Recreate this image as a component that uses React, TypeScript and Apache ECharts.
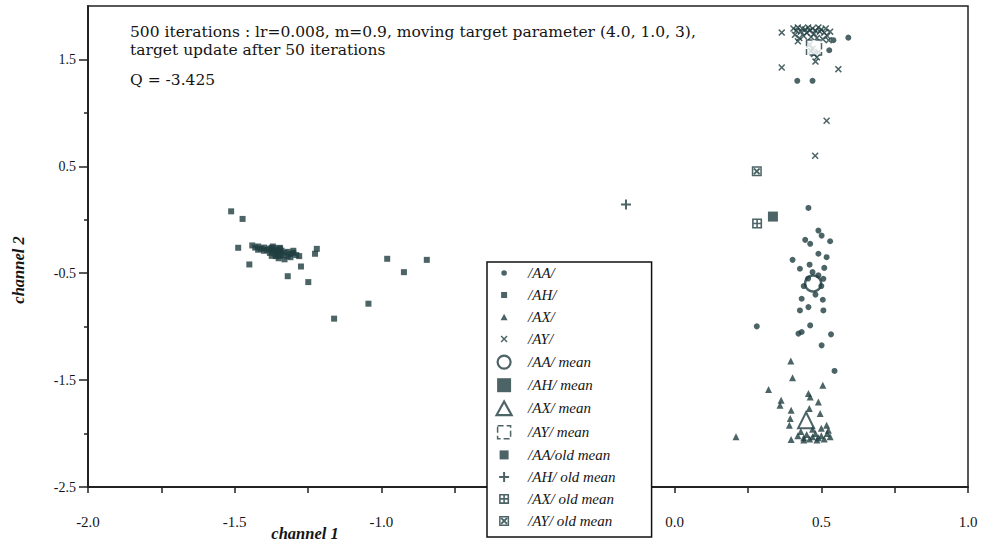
import React, { useEffect, useRef } from 'react';
import * as echarts from 'echarts';

// ---------- data ----------
const seriesNames = [
  '/AA/', '/AH/', '/AX/', '/AY/',
  '/AA/ mean', '/AH/ mean', '/AX/ mean', '/AY/ mean',
  '/AA/old mean', '/AH/ old mean', '/AX/ old mean', '/AY/ old mean',
];

const aaPoints = [
  [0.592, 1.704], [0.541, 1.68], [0.527, 1.586], [0.418, 1.3], [0.47, 1.3],
  [0.456, 0.111], [0.49, -0.101], [0.501, -0.148], [0.53, -0.201], [0.445, -0.188],
  [0.462, -0.225], [0.49, -0.318], [0.518, -0.35], [0.402, -0.375], [0.427, -0.458],
  [0.47, -0.49], [0.49, -0.52], [0.455, -0.55], [0.507, -0.552], [0.44, -0.62],
  [0.5, -0.62], [0.48, -0.7], [0.51, -0.45], [0.46, -0.42], [0.505, -0.748],
  [0.433, -0.739], [0.456, -0.817], [0.427, -0.848], [0.507, -0.848], [0.28, -0.997],
  [0.462, -0.988], [0.422, -1.065], [0.433, -1.05], [0.533, -1.072], [0.501, -1.175],
  [0.545, -1.414],
];

const ahPoints = [
  [-1.512, 0.079], [-1.473, 0.008], [-1.488, -0.262], [-1.45, -0.418],
  [-1.44, -0.24], [-1.43, -0.26], [-1.42, -0.25], [-1.41, -0.27], [-1.4, -0.26],
  [-1.39, -0.28], [-1.38, -0.27], [-1.37, -0.29], [-1.36, -0.28], [-1.35, -0.3],
  [-1.34, -0.29], [-1.33, -0.31], [-1.32, -0.3], [-1.31, -0.32], [-1.3, -0.31],
  [-1.29, -0.33], [-1.4, -0.29], [-1.38, -0.31], [-1.36, -0.32], [-1.34, -0.33],
  [-1.32, -0.34], [-1.35, -0.36], [-1.33, -0.37], [-1.42, -0.28], [-1.37, -0.25],
  [-1.345, -0.27], [-1.3, -0.29], [-1.28, -0.34], [-1.36, -0.34], [-1.31, -0.35],
  [-1.319, -0.528], [-1.274, -0.437], [-1.249, -0.583], [-1.22, -0.272], [-1.226, -0.318],
  [-0.98, -0.365], [-0.923, -0.49], [-0.845, -0.375], [-1.044, -0.785], [-1.161, -0.925],
];

const axPoints = [
  [0.396, -1.321], [0.402, -1.477], [0.32, -1.589], [0.505, -1.548], [0.363, -1.688],
  [0.359, -1.735], [0.456, -1.626], [0.462, -1.657], [0.49, -1.704], [0.397, -1.781],
  [0.394, -1.859], [0.391, -1.922], [0.459, -1.766], [0.496, -1.812], [0.518, -1.922],
  [0.524, -1.968], [0.397, -2.055], [0.209, -2.031],
  [0.42, -2.02], [0.44, -2.04], [0.45, -2.01], [0.46, -2.05], [0.47, -2.03], [0.48, -2.0],
  [0.49, -2.04], [0.5, -2.02], [0.51, -2.05], [0.52, -2.0], [0.43, -1.98], [0.47, -1.96],
  [0.5, -1.95], [0.53, -2.03], [0.44, -2.06], [0.485, -2.06],
];

const ayPoints = [
  [0.365, 1.751], [0.365, 1.424], [0.558, 1.409], [0.518, 0.926], [0.479, 0.599],
  [0.405, 1.79], [0.415, 1.77], [0.42, 1.8], [0.43, 1.76], [0.435, 1.79], [0.445, 1.78],
  [0.45, 1.75], [0.455, 1.8], [0.46, 1.77], [0.47, 1.79], [0.475, 1.74], [0.48, 1.77],
  [0.49, 1.8], [0.495, 1.76], [0.5, 1.78], [0.51, 1.75], [0.515, 1.79], [0.52, 1.72],
  [0.53, 1.76], [0.41, 1.73], [0.425, 1.7], [0.44, 1.72], [0.465, 1.71], [0.485, 1.7],
  [0.505, 1.69], [0.525, 1.68], [0.42, 1.67],
  [0.46, 1.64], [0.47, 1.6], [0.475, 1.55], [0.485, 1.52], [0.48, 1.48], [0.49, 1.57], [0.465, 1.58],
];

const aaMean = [[0.472, -0.596]];
const ahMean = [[-1.36, -0.3]];
const axMean = [[0.448, -1.875]];
const ayMean = [[0.475, 1.612]];
const aaOldMean = [[0.335, 0.03]];
const ahOldMean = [[-0.166, 0.142]];
const axOldMean = [[0.281, -0.035]];
const ayOldMean = [[0.28, 0.453]];

const xMin = -2.0;
const xMax = 1.0;
const xHiddenLabel = -0.5; // covered by the legend box in the reference
const yMin = -2.5;
const yMax = 2.0;
const yLabelValues = [-2.5, -1.5, -0.5, 0.5, 1.5];
const yMinorValues = [-2.0, -1.0, 0.0, 1.0];

const noteLine1 = '500 iterations : lr=0.008, m=0.9, moving target parameter (4.0, 1.0, 3),';
const noteLine2 = 'target update after 50 iterations';
const noteQ = 'Q = -3.425';

// ---------- styling ----------
const C = '#1f3d40';
const TXT = '#151515';
const SERIF = '"Liberation Serif", "Times New Roman", serif';
const WIDE_SERIF = '"DejaVu Serif", serif';

type Poly = number[][];
const SQUARE: Poly[] = [[[0, 0], [10, 0], [10, 10], [0, 10]]];
const TRI: Poly[] = [[[5, 0.5], [10, 9.5], [0, 9.5]]];
const XMARK: Poly[] = [[[0, 1.5], [1.5, 0], [5, 3.5], [8.5, 0], [10, 1.5], [6.5, 5], [10, 8.5], [8.5, 10], [5, 6.5], [1.5, 10], [0, 8.5], [3.5, 5]]];
const PLUS: Poly[] = [[[4, 0], [6, 0], [6, 4], [10, 4], [10, 6], [6, 6], [6, 10], [4, 10], [4, 6], [0, 6], [0, 4], [4, 4]]];
const HATCH: Poly[] = [
  [[0, 0], [10, 0], [10, 10], [0, 10]],
  [[1.6, 1.6], [1.6, 4.2], [4.2, 4.2], [4.2, 1.6]],
  [[5.8, 1.6], [5.8, 4.2], [8.4, 4.2], [8.4, 1.6]],
  [[1.6, 5.8], [1.6, 8.4], [4.2, 8.4], [4.2, 5.8]],
  [[5.8, 5.8], [5.8, 8.4], [8.4, 8.4], [8.4, 5.8]],
];
const BOX: Poly[] = [
  [[0, 0], [10, 0], [10, 10], [0, 10]],
  [[1.5, 1.5], [1.5, 8.5], [8.5, 8.5], [8.5, 1.5]],
  [[1.5, 2.8], [2.8, 1.5], [5, 3.7], [7.2, 1.5], [8.5, 2.8], [6.3, 5], [8.5, 7.2], [7.2, 8.5], [5, 6.3], [2.8, 8.5], [1.5, 7.2], [3.7, 5]],
];

function shapePath(polys: Poly[], cx: number, cy: number, s: number): string {
  const k = s / 10;
  return polys
    .map((p) => 'M' + p.map(([x, y]) => `${(cx - s / 2 + x * k).toFixed(2)} ${(cy - s / 2 + y * k).toFixed(2)}`).join('L') + 'Z')
    .join('');
}
function circlePath(cx: number, cy: number, r: number): string {
  return `M${cx - r} ${cy}A${r} ${r} 0 1 1 ${cx + r} ${cy}A${r} ${r} 0 1 1 ${cx - r} ${cy}Z`;
}

// legend icon box 31 x 20, icon centred at (12,10)
const LW = 31;
const LH = 20;
const PAD = `M0 0M${LW} ${LH}`;
const LX = 12;
const LY = 10;
const legendIcons = [
  circlePath(LX, LY, 2.8),
  shapePath(SQUARE, LX, LY, 6),
  shapePath(TRI, LX, LY, 7),
  shapePath(XMARK, LX, LY, 7),
  circlePath(LX, LY, 6.5),
  shapePath(SQUARE, LX, LY, 14),
  shapePath(TRI, LX, LY, 15),
  shapePath(SQUARE, LX, LY, 13),
  shapePath(SQUARE, LX, LY, 9),
  shapePath(PLUS, LX, LY, 10),
  shapePath(HATCH, LX, LY, 10),
  shapePath(BOX, LX, LY, 10),
];
const filled = { color: C, borderWidth: 0 };
const hollow = { color: '#fff', borderColor: C, borderWidth: 2.2 };
const legendStyles: any[] = [
  filled, filled, filled, filled,
  hollow, filled, hollow, { color: '#fff', borderColor: C, borderWidth: 1.5, borderType: 'dashed' },
  filled, filled, filled, filled,
];

const clear = 'rgba(255,255,255,0)';

export default function App() {
  const ref = useRef<HTMLDivElement>(null);
  useEffect(() => {
    if (!ref.current) return;
    const chart = echarts.init(ref.current, undefined, { renderer: 'svg' });
    const sc = (name: string, data: number[][], symbol: string, size: number, itemStyle: any = { color: C }, z = 2) => ({
      type: 'scatter',
      name,
      data,
      symbol,
      symbolSize: size,
      itemStyle,
      z,
      emphasis: { disabled: true },
    });
    const option: any = {
      animation: false,
      backgroundColor: '#fff',
      grid: {
        left: 88, top: 6, width: 880, height: 481,
        show: true, borderColor: '#222', borderWidth: 1.5, backgroundColor: 'transparent',
      },
      xAxis: {
        type: 'value', min: xMin, max: xMax, interval: 0.5,
        axisLine: { show: true, onZero: false, lineStyle: { color: '#222', width: 2 } },
        axisTick: { show: true, inside: false, length: 6, lineStyle: { color: '#222', width: 1.5 } },
        minorTick: { show: true, splitNumber: 2, length: 6, lineStyle: { color: '#222', width: 1.5 } },
        axisLabel: {
          margin: 27, color: TXT, fontFamily: SERIF, fontSize: 15,
          formatter: (v: number) => (Math.abs(v - xHiddenLabel) < 1e-6 ? '' : v.toFixed(1)),
        },
        splitLine: { show: false },
      },
      yAxis: [
        {
          type: 'value', min: yMin, max: yMax, interval: 0.5,
          axisLine: { show: true, onZero: false, lineStyle: { color: '#222', width: 2 } },
          axisTick: { show: true, length: 4, customValues: yMinorValues, lineStyle: { color: '#222', width: 1.5 } },
          axisLabel: { show: false },
          splitLine: { show: false },
        },
        {
          type: 'value', min: yMin, max: yMax, interval: 0.5, position: 'left',
          axisLine: { show: false, onZero: false },
          axisTick: { show: true, length: 9, customValues: yLabelValues, lineStyle: { color: '#222', width: 1.5 } },
          axisLabel: {
            show: true, margin: 12, color: TXT, fontFamily: SERIF, fontSize: 14,
            customValues: yLabelValues,
            formatter: (v: number) => (yLabelValues.some((t) => Math.abs(t - v) < 1e-6) ? v.toFixed(1) : ''),
          },
          splitLine: { show: false },
        },
      ],
      legend: {
        orient: 'vertical', left: 487, top: 262,
        itemWidth: LW, itemHeight: LH, itemGap: 2,
        padding: [1, 36, 6, 4],
        backgroundColor: '#fff', borderColor: '#111', borderWidth: 1.5,
        selectedMode: false,
        textStyle: { fontFamily: SERIF, fontStyle: 'italic', fontSize: 15, color: TXT },
        data: seriesNames.map((n, i) => ({
          name: n,
          icon: 'path://' + PAD + legendIcons[i],
          itemStyle: legendStyles[i],
        })),
        z: 10,
      },
      graphic: [
        { type: 'text', left: 130, top: 24, style: { text: noteLine1, font: `15.5px ${WIDE_SERIF}`, fill: TXT } },
        { type: 'text', left: 130, top: 42, style: { text: noteLine2, font: `15.5px ${WIDE_SERIF}`, fill: TXT } },
        { type: 'text', left: 130, top: 72, style: { text: noteQ, font: `15.5px ${WIDE_SERIF}`, fill: TXT } },
        {
          type: 'text', x: 18, y: 270, rotation: Math.PI / 2,
          style: {
            text: 'channel 2', font: `italic bold 16.5px ${SERIF}`, fill: TXT,
            align: 'center', verticalAlign: 'middle', textAlign: 'center', textVerticalAlign: 'middle',
          },
        },
        {
          type: 'text', x: 305, y: 533,
          style: {
            text: 'channel 1', font: `italic bold 16.5px ${SERIF}`, fill: TXT,
            align: 'center', verticalAlign: 'middle', textAlign: 'center', textVerticalAlign: 'middle',
          },
        },
      ],
      series: [
        sc(seriesNames[0], aaPoints, 'circle', 6),
        sc(seriesNames[1], ahPoints, 'rect', 6),
        sc(seriesNames[2], axPoints, 'triangle', 7),
        sc(seriesNames[3], ayPoints, 'path://' + shapePath(XMARK, 5, 5, 10), 7),
        sc(seriesNames[4], aaMean, 'circle', 16, { color: clear, borderColor: C, borderWidth: 2.5 }, 3),
        sc(seriesNames[5], ahMean, 'rect', 14, { color: C }, 3),
        sc(seriesNames[6], axMean, 'triangle', 16, { color: clear, borderColor: C, borderWidth: 2 }, 3),
        sc(seriesNames[7], ayMean, 'rect', 15, { color: '#fff', borderColor: C, borderWidth: 1.5, borderType: 'dashed' }, 3),
        sc(seriesNames[8], aaOldMean, 'rect', 10, { color: C }, 3),
        sc(seriesNames[9], ahOldMean, 'path://' + shapePath(PLUS, 5, 5, 10), 10, { color: C }, 3),
        sc(seriesNames[10], axOldMean, 'path://' + shapePath(HATCH, 5, 5, 10), 10, { color: C }, 3),
        sc(seriesNames[11], ayOldMean, 'path://' + shapePath(BOX, 5, 5, 10), 10, { color: C }, 3),
      ],
    };
    chart.setOption(option);
    return () => chart.dispose();
  }, []);
  return (
    <div
      ref={ref}
      style={{ position: 'fixed', left: 0, top: 0, width: 990, height: 545, background: '#fff' }}
    />
  );
}
